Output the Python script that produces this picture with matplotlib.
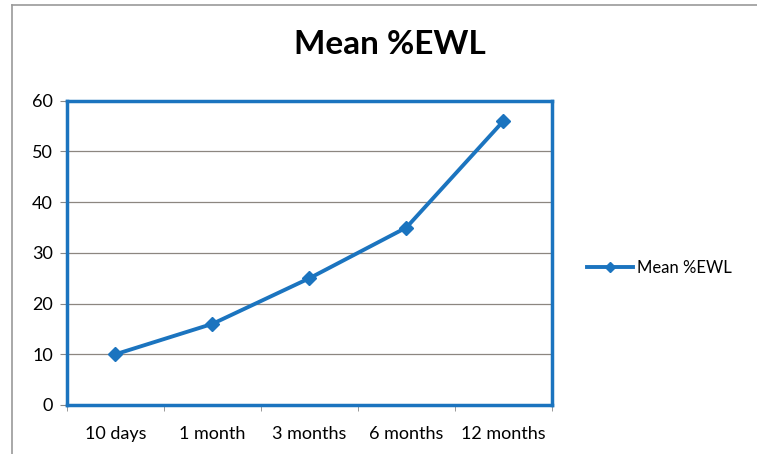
import matplotlib
matplotlib.use("Agg")
import matplotlib.pyplot as plt
from matplotlib.lines import Line2D

categories = ["10 days", "1 month", "3 months", "6 months", "12 months"]
mean_ewl = [10, 16, 25, 35, 56]
series_name = "Mean %EWL"

BLUE = "#1b74bf"
plt.rcParams["font.family"] = ["Lato", "DejaVu Sans"]

fig = plt.figure(figsize=(7.57, 4.54), dpi=100)
ax = fig.add_axes([0.0885, 0.108, 0.6405, 0.670])

x = list(range(len(categories)))
ax.plot(x, mean_ewl, color=BLUE, lw=2.8, marker="D", ms=7, label=series_name)

ax.set_xlim(-0.5, len(categories) - 0.5)
ax.set_ylim(0, 60)
ax.set_yticks(range(0, 61, 10))
ax.set_xticks(x)
ax.set_xticklabels(categories, fontsize=13)
ax.tick_params(axis="x", length=0, pad=15)
ax.set_xticks([i + 0.5 for i in range(-1, len(categories))], minor=True)
ax.tick_params(axis="x", which="minor", length=4, color="#888888")
ax.tick_params(axis="y", labelsize=13, length=5, color="#888888", pad=5)
ax.yaxis.grid(True, color="#8c8680", lw=0.9)
ax.set_axisbelow(True)
for s in ax.spines.values():
    s.set_color(BLUE)
    s.set_linewidth(2.5)

fig.suptitle(series_name, x=0.515, y=0.935, fontsize=24, fontweight="bold")

handle = Line2D([], [], color=BLUE, lw=2.8, marker="D", ms=5)
fig.legend([handle], [series_name], loc="center left", bbox_to_anchor=(0.755, 0.41),
           frameon=False, fontsize=12, handlelength=2.8, handletextpad=0.2)

# outer chart frame (left and top edges visible)
fig.add_artist(Line2D([0.016, 0.016], [0, 0.99], color="#999999", lw=1.2))
fig.add_artist(Line2D([0.016, 1.0], [0.99, 0.99], color="#999999", lw=1.2))

fig.savefig("out.png", dpi=100)
